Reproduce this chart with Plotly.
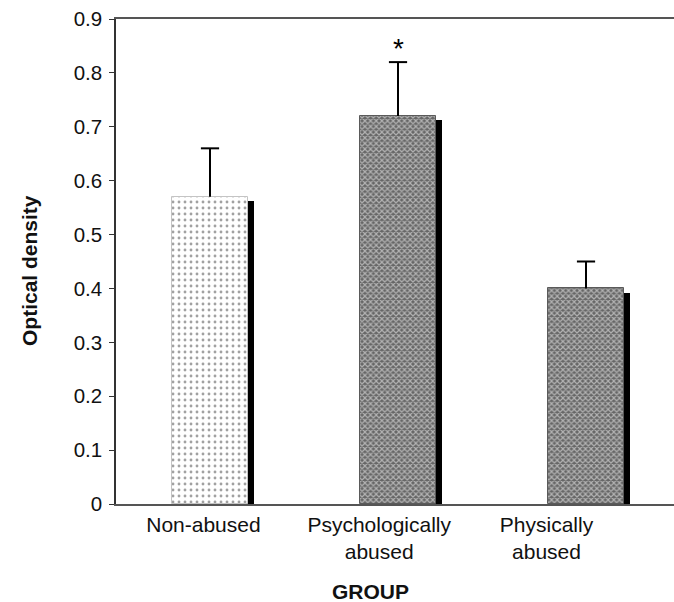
import plotly.graph_objects as go

categories = ["Non-abused", "Psychologically<br>abused", "Physically<br>abused"]
means = [0.57, 0.72, 0.40]
errors = [0.09, 0.10, 0.05]
y_ticks = [0, 0.1, 0.2, 0.3, 0.4, 0.5, 0.6, 0.7, 0.8, 0.9]
y_tick_text = ["0", "0.1", "0.2", "0.3", "0.4", "0.5", "0.6", "0.7", "0.8", "0.9"]
significance = ["", "*", ""]

# layout: bar slots and where the category labels sit on the x scale
bar_slots = [0, 1, 2]
label_slots = [-0.035, 0.9, 1.79]

FONT = "Liberation Sans, Arial, sans-serif"
shadow_drop = 0.008

fig = go.Figure()

# black shadow behind each bar
fig.add_trace(go.Bar(
    x=bar_slots,
    y=[m - shadow_drop for m in means],
    width=0.4,
    offset=-0.2 + 0.032,
    marker=dict(color="black", line=dict(width=0)),
    showlegend=False,
    hoverinfo="skip",
))

# main bars
fig.add_trace(go.Bar(
    x=bar_slots,
    y=means,
    width=0.4,
    offset=-0.2,
    marker=dict(
        color=["#ffffff", "#666666", "#666666"],
        line=dict(color=["#c4c4c4", "#5a5a5a", "#5a5a5a"], width=1),
        pattern=dict(
            shape=[".", "x", "x"],
            fgcolor=["#a8a8a8", "#1e1e1e", "#1e1e1e"],
            bgcolor=["#ffffff", "#969696", "#969696"],
            size=[6, 4, 4],
            solidity=[0.18, 0.5, 0.5],
        ),
    ),
    showlegend=False,
))

# upward error bars: stem + top cap
stem_x, stem_y = [], []
for xs, m, e in zip(bar_slots, means, errors):
    stem_x += [xs, xs, None]
    stem_y += [m, m + e, None]
fig.add_trace(go.Scatter(
    x=stem_x, y=stem_y, mode="lines",
    line=dict(color="black", width=2),
    showlegend=False, hoverinfo="skip",
))
fig.add_trace(go.Scatter(
    x=bar_slots, y=[m + e for m, e in zip(means, errors)], mode="markers",
    marker=dict(symbol="line-ew", size=13, line=dict(color="black", width=2)),
    showlegend=False, hoverinfo="skip",
))

for xs, m, e, s in zip(bar_slots, means, errors, significance):
    if s:
        fig.add_annotation(
            x=xs, y=m + e - 0.007, text=s, showarrow=False,
            font=dict(family=FONT, size=28, color="black"),
            xref="x", yref="y", yanchor="bottom",
        )

fig.add_annotation(
    text="<b>Optical density</b>", textangle=-90,
    xref="paper", yref="paper",
    x=-(116 - 29) / 558, y=(504 - 271) / 485, xanchor="center", yanchor="middle",
    showarrow=False, font=dict(family=FONT, size=21, color="#111"),
)
fig.add_annotation(
    text="<b>GROUP</b>", xref="paper", yref="paper",
    x=(370 - 116) / 558, y=-(591 - 504) / 485, xanchor="center", yanchor="middle",
    showarrow=False, font=dict(family=FONT, size=21, color="#111"),
)

fig.update_layout(
    width=674, height=602,
    margin=dict(l=116, r=0, t=19, b=98),
    paper_bgcolor="white", plot_bgcolor="white",
    barmode="overlay",
    bargap=0,
    font=dict(family=FONT, color="#111"),
    showlegend=False,
    xaxis=dict(
        range=[-0.5, 2.468],
        tickvals=label_slots, ticktext=categories,
        showline=True, linecolor="#555", linewidth=1.5, mirror=True,
        ticks="", showgrid=False, zeroline=False,
        tickfont=dict(family=FONT, size=21, color="#111"),
        ticklabelstandoff=1,
    ),
    yaxis=dict(
        range=[0, 0.9],
        tickvals=y_ticks, ticktext=y_tick_text,
        showline=True, linecolor="#333", linewidth=1.5,
        ticks="outside", ticklen=5, tickcolor="#333", tickwidth=1,
        showgrid=False, zeroline=False,
        tickfont=dict(family=FONT, size=20.5, color="#111"),
        ticklabelstandoff=3,
    ),
)

fig.write_html(
    "out.html",
    config={"displayModeBar": False},
    post_script="document.body.style.margin='0';",
)
